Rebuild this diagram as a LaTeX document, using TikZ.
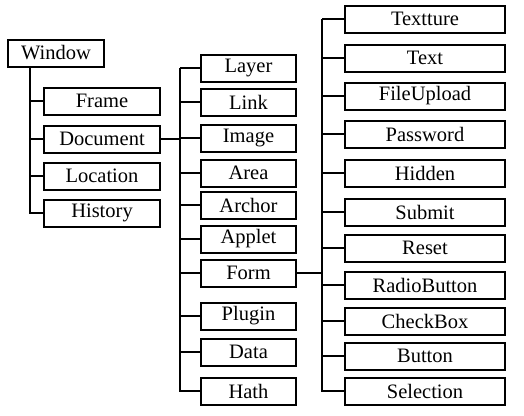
\documentclass[tikz,border=0pt]{standalone}
\usepackage{fontspec}
\setmainfont{Liberation Serif}
\usepackage{tikz}

\begin{document}
\begin{tikzpicture}[%
		x=1pt, y=-1pt,
		font=\fontsize{20.5}{20.5}\selectfont,
		line width=1.5pt,
		box/.style={draw, line width=2pt, inner sep=0pt, minimum height=27pt},
		colA/.style={box, minimum width=116pt},
		colB/.style={box, minimum width=95pt},
		colC/.style={box, minimum width=160pt}
		]

		\useasboundingbox (0,0) rectangle (524,415);

		%% Wurzel
		\node[box, minimum width=96pt] (win) at (56,53) {Window};

		%% erste Ebene
		\foreach \n/\t/\y in {frame/Frame/101, doc/Document/139, loc/Location/176, hist/History/213} {
			\node[colA] (\n) at (102,\y) {\t};
		}

		%% zweite Ebene
		\foreach \n/\t/\y in {layer/Layer/68, link/Link/102, image/Image/138, area/Area/173,
			archor/Archor/205, applet/Applet/239, form/Form/273, plugin/Plugin/316,
			data/Data/352, hath/Hath/391} {
			\node[colB] (\n) at (248.5,\y) {\t};
		}

		%% dritte Ebene
		\foreach \n/\t/\y in {texture/Textture/19, text/Text/58, upload/FileUpload/96,
			passwd/Password/134, hidden/Hidden/173, submit/Submit/212, reset/Reset/248,
			radio/RadioButton/285, check/CheckBox/321, button/Button/356, select/Selection/391} {
			\node[colC] (\n) at (425,\y) {\t};
		}

		%% Stämme
		\coordinate (trA) at (30,0);
		\coordinate (trB) at (180,0);
		\coordinate (trC) at (322,0);

		\draw (win.south -| trA) |- (hist.west);
		\foreach \n in {frame, doc, loc} {
			\draw (trA |- \n.west) -- (\n.west);
		}

		\draw (doc.east) -- (trB |- doc.east);
		\draw (trB |- layer.west) -- (layer.west);
		\draw (trB |- layer.west) |- (hath.west);
		\foreach \n in {link, image, area, archor, applet, form, plugin, data} {
			\draw (trB |- \n.west) -- (\n.west);
		}

		\draw (form.east) -- (trC |- form.east);
		\draw (trC |- texture.west) -- (texture.west);
		\draw (trC |- texture.west) |- (select.west);
		\foreach \n in {text, upload, passwd, hidden, submit, reset, radio, check, button} {
			\draw (trC |- \n.west) -- (\n.west);
		}

	\end{tikzpicture}
\end{document}
